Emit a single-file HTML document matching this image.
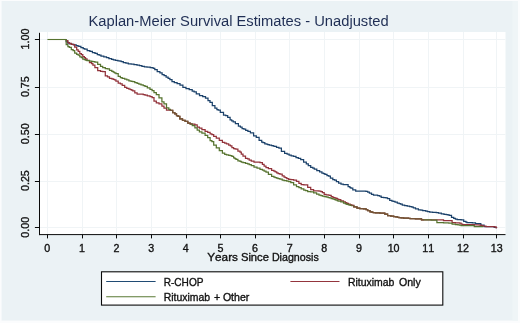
<!DOCTYPE html>
<html><head><meta charset="utf-8"><title>Kaplan-Meier Survival Estimates - Unadjusted</title>
<style>
html,body{margin:0;padding:0;background:#ebf2f5;}
body{width:520px;height:323px;overflow:hidden;position:relative;font-family:"Liberation Sans",sans-serif;}
</style></head><body>
<svg width="520" height="323" viewBox="0 0 520 323" style="position:absolute;left:0;top:0">
<rect x="0" y="0" width="520" height="323" fill="#fbfcfd"/>
<rect x="1.6" y="1" width="516.4" height="319.6" fill="#ebf2f5"/>
<rect x="512.5" y="1" width="5.5" height="319.6" fill="#eff5f7"/>
<rect x="39.5" y="32.0" width="466.0" height="202.6" fill="#ffffff"/>
<line x1="47.5" y1="32.0" x2="47.5" y2="234.6" stroke="#f0f4f6" stroke-width="1"/>
<line x1="82.5" y1="32.0" x2="82.5" y2="234.6" stroke="#f0f4f6" stroke-width="1"/>
<line x1="116.5" y1="32.0" x2="116.5" y2="234.6" stroke="#f0f4f6" stroke-width="1"/>
<line x1="151.5" y1="32.0" x2="151.5" y2="234.6" stroke="#f0f4f6" stroke-width="1"/>
<line x1="186.5" y1="32.0" x2="186.5" y2="234.6" stroke="#f0f4f6" stroke-width="1"/>
<line x1="220.5" y1="32.0" x2="220.5" y2="234.6" stroke="#f0f4f6" stroke-width="1"/>
<line x1="255.5" y1="32.0" x2="255.5" y2="234.6" stroke="#f0f4f6" stroke-width="1"/>
<line x1="289.5" y1="32.0" x2="289.5" y2="234.6" stroke="#f0f4f6" stroke-width="1"/>
<line x1="324.5" y1="32.0" x2="324.5" y2="234.6" stroke="#f0f4f6" stroke-width="1"/>
<line x1="359.5" y1="32.0" x2="359.5" y2="234.6" stroke="#f0f4f6" stroke-width="1"/>
<line x1="393.5" y1="32.0" x2="393.5" y2="234.6" stroke="#f0f4f6" stroke-width="1"/>
<line x1="428.5" y1="32.0" x2="428.5" y2="234.6" stroke="#f0f4f6" stroke-width="1"/>
<line x1="463.5" y1="32.0" x2="463.5" y2="234.6" stroke="#f0f4f6" stroke-width="1"/>
<line x1="496.5" y1="32.0" x2="496.5" y2="234.6" stroke="#f0f4f6" stroke-width="1"/>
<line x1="39.5" y1="227.5" x2="505.5" y2="227.5" stroke="#f0f4f6" stroke-width="1"/>
<line x1="39.5" y1="181.5" x2="505.5" y2="181.5" stroke="#f0f4f6" stroke-width="1"/>
<line x1="39.5" y1="134.5" x2="505.5" y2="134.5" stroke="#f0f4f6" stroke-width="1"/>
<line x1="39.5" y1="87.5" x2="505.5" y2="87.5" stroke="#f0f4f6" stroke-width="1"/>
<line x1="39.5" y1="39.5" x2="505.5" y2="39.5" stroke="#f0f4f6" stroke-width="1"/>
<defs><clipPath id="mg"><rect x="170" y="100" width="22" height="30"/><rect x="351" y="195" width="73" height="30"/></clipPath></defs>
<g fill="none" stroke-linejoin="miter" stroke-width="1.25">
<path d="M66.2 39.5 L66.2 41.5 L67.0 41.5 L67.7 41.5 L67.7 43.1 L68.5 43.1 L69.6 43.1 L69.6 43.8 L70.8 43.8 L71.7 43.8 L71.7 44.3 L72.6 44.3 L73.8 44.3 L73.8 44.9 L75.0 44.9 L76.2 44.9 L76.2 45.7 L77.5 45.7 L78.0 45.7 L78.0 46.1 L78.5 46.1 L79.0 46.1 L79.0 46.4 L79.5 46.4 L80.9 46.4 L80.9 47.7 L82.4 47.7 L83.2 47.7 L83.2 48.5 L84.0 48.5 L84.7 48.5 L84.7 49.2 L85.5 49.2 L87.2 49.2 L87.2 50.6 L88.9 50.6 L89.9 50.6 L89.9 51.4 L90.9 51.4 L92.4 51.4 L92.4 52.5 L93.9 52.5 L95.0 52.5 L95.0 53.3 L96.0 53.3 L97.3 53.3 L97.3 54.5 L98.5 54.5 L99.2 54.5 L99.2 55.2 L99.8 55.2 L101.0 55.2 L101.0 56.1 L102.3 56.1 L103.8 56.1 L103.8 56.9 L105.4 56.9 L106.5 56.9 L106.5 57.7 L107.6 57.7 L108.9 57.7 L108.9 58.6 L110.3 58.6 L111.6 58.6 L111.6 59.4 L112.9 59.4 L113.4 59.4 L113.4 59.8 L114.0 59.8 L115.4 59.8 L115.4 60.4 L116.8 60.4 L117.9 60.4 L117.9 60.8 L119.1 60.8 L120.0 60.8 L120.0 61.2 L120.8 61.2 L121.3 61.2 L121.3 61.5 L121.8 61.5 L123.3 61.5 L123.3 62.5 L124.8 62.5 L125.9 62.5 L125.9 63.1 L126.9 63.1 L128.3 63.1 L128.3 63.8 L129.6 63.8 L131.2 63.8 L131.2 64.2 L132.7 64.2 L134.0 64.2 L134.0 64.6 L135.4 64.6 L137.0 64.6 L137.0 65.2 L138.6 65.2 L139.5 65.2 L139.5 65.6 L140.5 65.6 L141.9 65.6 L141.9 66.3 L143.4 66.3 L144.4 66.3 L144.4 66.8 L145.4 66.8 L147.0 66.8 L147.0 67.1 L148.6 67.1 L150.2 67.1 L150.2 67.6 L151.7 67.6 L152.3 67.6 L152.3 67.8 L152.9 67.8 L153.5 67.8 L153.5 68.3 L154.1 68.3 L154.8 68.3 L154.8 69.5 L155.6 69.5 L157.2 69.5 L157.2 71.6 L158.9 71.6 L159.9 71.6 L159.9 72.8 L160.9 72.8 L162.1 72.8 L162.1 74.6 L163.3 74.6 L164.1 74.6 L164.1 75.7 L165.0 75.7 L166.1 75.7 L166.1 77.2 L167.1 77.2 L168.1 77.2 L168.1 78.4 L169.0 78.4 L169.9 78.4 L169.9 79.6 L170.8 79.6 L172.0 79.6 L172.0 81.7 L173.1 81.7 L174.3 81.7 L174.3 82.5 L175.5 82.5 L177.1 82.5 L177.1 83.6 L178.7 83.6 L180.0 83.6 L180.0 85.1 L181.3 85.1 L182.9 85.1 L182.9 87.4 L184.5 87.4 L186.0 87.4 L186.0 88.7 L187.5 88.7 L189.2 88.7 L189.2 89.5 L190.9 89.5 L192.2 89.5 L192.2 91.0 L193.5 91.0 L194.1 91.0 L194.1 91.8 L194.8 91.8 L196.3 91.8 L196.3 93.8 L197.9 93.8 L199.5 93.8 L199.5 95.5 L201.2 95.5 L202.7 95.5 L202.7 96.7 L204.3 96.7 L205.5 96.7 L205.5 98.1 L206.6 98.1 L208.0 98.1 L208.0 100.7 L209.3 100.7 L210.0 100.7 L210.0 102.3 L210.8 102.3 L212.3 102.3 L212.3 105.6 L213.7 105.6 L214.9 105.6 L214.9 108.0 L216.1 108.0 L216.9 108.0 L216.9 109.5 L217.7 109.5 L218.2 109.5 L218.2 110.2 L218.7 110.2 L220.3 110.2 L220.3 112.3 L221.8 112.3 L223.5 112.3 L223.5 115.1 L225.2 115.1 L225.7 115.1 L225.7 115.6 L226.3 115.6 L227.7 115.6 L227.7 117.4 L229.2 117.4 L230.1 117.4 L230.1 119.8 L231.1 119.8 L231.7 119.8 L231.7 120.8 L232.4 120.8 L233.2 120.8 L233.2 121.8 L234.0 121.8 L235.4 121.8 L235.4 123.7 L236.8 123.7 L238.4 123.7 L238.4 126.2 L239.9 126.2 L240.4 126.2 L240.4 127.2 L240.9 127.2 L242.1 127.2 L242.1 128.6 L243.4 128.6 L243.9 128.6 L243.9 129.1 L244.4 129.1 L245.7 129.1 L245.7 130.4 L247.1 130.4 L247.9 130.4 L247.9 131.3 L248.8 131.3 L250.4 131.3 L250.4 132.8 L251.9 132.8 L253.6 132.8 L253.6 135.8 L255.3 135.8 L256.3 135.8 L256.3 137.3 L257.4 137.3 L259.1 137.3 L259.1 140.3 L260.8 140.3 L261.7 140.3 L261.7 142.0 L262.5 142.0 L263.0 142.0 L263.0 142.5 L263.6 142.5 L264.8 142.5 L264.8 143.8 L266.0 143.8 L266.5 143.8 L266.5 144.1 L267.0 144.1 L267.7 144.1 L267.7 144.5 L268.4 144.5 L269.3 144.5 L269.3 145.0 L270.3 145.0 L271.5 145.0 L271.5 145.7 L272.7 145.7 L273.3 145.7 L273.3 146.1 L274.0 146.1 L274.5 146.1 L274.5 146.4 L275.0 146.4 L276.5 146.4 L276.5 147.4 L278.1 147.4 L278.9 147.4 L278.9 148.2 L279.7 148.2 L281.4 148.2 L281.4 151.4 L283.0 151.4 L284.6 151.4 L284.6 153.4 L286.2 153.4 L287.1 153.4 L287.1 154.2 L288.0 154.2 L289.1 154.2 L289.1 155.2 L290.1 155.2 L291.2 155.2 L291.2 155.9 L292.3 155.9 L293.5 155.9 L293.5 156.4 L294.8 156.4 L296.0 156.4 L296.0 157.5 L297.2 157.5 L298.3 157.5 L298.3 158.4 L299.5 158.4 L300.7 158.4 L300.7 159.5 L301.9 159.5 L303.6 159.5 L303.6 162.2 L305.2 162.2 L306.3 162.2 L306.3 163.9 L307.4 163.9 L308.3 163.9 L308.3 165.5 L309.3 165.5 L310.7 165.5 L310.7 167.3 L312.0 167.3 L312.8 167.3 L312.8 168.1 L313.5 168.1 L314.3 168.1 L314.3 169.0 L315.2 169.0 L316.8 169.0 L316.8 170.7 L318.5 170.7 L319.6 170.7 L319.6 171.9 L320.7 171.9 L321.9 171.9 L321.9 173.1 L323.0 173.1 L323.5 173.1 L323.5 173.6 L323.9 173.6 L324.9 173.6 L324.9 174.4 L325.9 174.4 L327.0 174.4 L327.0 175.5 L328.2 175.5 L328.7 175.5 L328.7 176.0 L329.2 176.0 L330.4 176.0 L330.4 178.0 L331.6 178.0 L332.8 178.0 L332.8 179.7 L334.1 179.7 L334.6 179.7 L334.6 180.2 L335.1 180.2 L336.4 180.2 L336.4 181.6 L337.6 181.6 L338.6 181.6 L338.6 183.0 L339.7 183.0 L341.0 183.0 L341.0 184.0 L342.3 184.0 L343.2 184.0 L343.2 184.5 L344.0 184.5 L345.4 184.5 L345.4 184.7 L346.7 184.7 L348.1 184.7 L348.1 186.7 L349.5 186.7 L349.9 186.7 L349.9 187.5 L350.4 187.5 L350.9 187.5 L350.9 188.2 L351.5 188.2 L352.8 188.2 L352.8 189.8 L354.1 189.8 L355.7 189.8 L355.7 191.0 L357.4 191.0 L358.1 191.0 L358.1 191.1 L358.9 191.1 L359.9 191.1 L359.9 191.1 L360.9 191.1 L362.1 191.1 L362.1 191.1 L363.3 191.1 L364.2 191.1 L364.2 191.1 L365.0 191.1 L365.9 191.1 L365.9 191.4 L366.8 191.4 L367.7 191.4 L367.7 192.2 L368.5 192.2 L369.4 192.2 L369.4 193.2 L370.3 193.2 L371.5 193.2 L371.5 194.4 L372.7 194.4 L373.5 194.4 L373.5 195.0 L374.4 195.0 L375.3 195.0 L375.3 195.2 L376.2 195.2 L377.6 195.2 L377.6 195.6 L379.0 195.6 L379.5 195.6 L379.5 196.1 L380.0 196.1 L381.2 196.1 L381.2 197.3 L382.3 197.3 L383.7 197.3 L383.7 197.7 L385.1 197.7 L385.9 197.7 L385.9 197.9 L386.7 197.9 L387.5 197.9 L387.5 198.5 L388.2 198.5 L389.7 198.5 L389.7 200.4 L391.1 200.4 L391.9 200.4 L391.9 201.0 L392.6 201.0 L393.3 201.0 L393.3 201.4 L394.0 201.4 L395.0 201.4 L395.0 202.1 L396.0 202.1 L397.3 202.1 L397.3 203.1 L398.6 203.1 L399.2 203.1 L399.2 203.5 L399.8 203.5 L400.6 203.5 L400.6 204.2 L401.5 204.2 L402.3 204.2 L402.3 205.0 L403.2 205.0 L404.7 205.0 L404.7 205.7 L406.2 205.7 L407.2 205.7 L407.2 206.0 L408.2 206.0 L409.7 206.0 L409.7 206.5 L411.2 206.5 L411.9 206.5 L411.9 207.1 L412.5 207.1 L413.4 207.1 L413.4 207.8 L414.3 207.8 L415.5 207.8 L415.5 208.9 L416.8 208.9 L418.4 208.9 L418.4 209.8 L419.9 209.8 L420.9 209.8 L420.9 210.2 L422.0 210.2 L422.7 210.2 L422.7 210.5 L423.4 210.5 L424.0 210.5 L424.0 210.7 L424.6 210.7 L425.7 210.7 L425.7 211.2 L426.8 211.2 L427.5 211.2 L427.5 211.6 L428.2 211.6 L429.7 211.6 L429.7 212.0 L431.1 212.0 L432.6 212.0 L432.6 212.3 L434.1 212.3 L434.8 212.3 L434.8 212.4 L435.5 212.4 L436.3 212.4 L436.3 212.5 L437.1 212.5 L438.5 212.5 L438.5 213.0 L440.0 213.0 L441.3 213.0 L441.3 213.9 L442.5 213.9 L444.0 213.9 L444.0 214.3 L445.4 214.3 L446.3 214.3 L446.3 214.5 L447.2 214.5 L447.8 214.5 L447.8 214.8 L448.4 214.8 L449.2 214.8 L449.2 215.3 L450.0 215.3 L451.5 215.3 L451.5 217.4 L452.9 217.4 L453.7 217.4 L453.7 218.4 L454.5 218.4 L455.4 218.4 L455.4 219.0 L456.3 219.0 L457.2 219.0 L457.2 219.5 L458.2 219.5 L459.2 219.5 L459.2 219.7 L460.2 219.7 L461.1 219.7 L461.1 219.9 L462.1 219.9 L463.7 219.9 L463.7 221.4 L465.3 221.4 L465.9 221.4 L465.9 222.0 L466.6 222.0 L467.0 222.0 L467.0 222.5 L467.5 222.5 L469.1 222.5 L469.1 222.6 L470.7 222.6 L472.3 222.6 L472.3 222.8 L473.8 222.8 L475.5 222.8 L475.5 223.6 L477.2 223.6 L478.2 223.6 L478.2 223.7 L479.2 223.7 L480.8 223.7 L480.8 225.0 L482.5 225.0 L484.1 225.0 L484.1 226.5 L485.7 226.5 L486.4 226.5 L486.4 226.5 L487.1 226.5 L488.5 226.5 L488.5 226.5 L489.9 226.5 L491.4 226.5 L491.4 226.5 L492.9 226.5 L494.2 226.5 L494.2 227.3 L495.5 227.3 L496.2 227.3 L496.2 227.6 L497.0 227.6" stroke="#1b416a"/>
<path d="M66.2 39.5 L66.2 40.5 L67.0 40.5 L67.9 40.5 L67.9 42.7 L68.7 42.7 L69.3 42.7 L69.3 43.4 L70.0 43.4 L71.3 43.4 L71.3 44.3 L72.5 44.3 L73.1 44.3 L73.1 44.6 L73.6 44.6 L74.7 44.6 L74.7 47.2 L75.8 47.2 L76.7 47.2 L76.7 49.8 L77.6 49.8 L78.2 49.8 L78.2 51.4 L78.7 51.4 L79.8 51.4 L79.8 53.6 L80.9 53.6 L81.4 53.6 L81.4 54.6 L81.9 54.6 L82.8 54.6 L82.8 56.6 L83.8 56.6 L84.4 56.6 L84.4 57.7 L84.9 57.7 L85.5 57.7 L85.5 58.8 L86.0 58.8 L87.0 58.8 L87.0 60.3 L88.0 60.3 L89.5 60.3 L89.5 62.5 L91.0 62.5 L91.6 62.5 L91.6 63.7 L92.2 63.7 L92.9 63.7 L92.9 65.1 L93.6 65.1 L94.9 65.1 L94.9 67.6 L96.1 67.6 L97.7 67.6 L97.7 70.5 L99.4 70.5 L100.5 70.5 L100.5 71.4 L101.7 71.4 L102.7 71.4 L102.7 71.6 L103.6 71.6 L105.3 71.6 L105.3 75.8 L107.0 75.8 L107.5 75.8 L107.5 76.8 L108.0 76.8 L109.5 76.8 L109.5 78.4 L111.0 78.4 L111.8 78.4 L111.8 78.9 L112.6 78.9 L113.3 78.9 L113.3 79.4 L113.9 79.4 L114.5 79.4 L114.5 79.8 L115.1 79.8 L115.9 79.8 L115.9 81.1 L116.8 81.1 L118.2 81.1 L118.2 83.1 L119.7 83.1 L120.4 83.1 L120.4 83.8 L121.1 83.8 L122.2 83.8 L122.2 85.3 L123.4 85.3 L124.7 85.3 L124.7 87.3 L125.9 87.3 L126.8 87.3 L126.8 88.3 L127.7 88.3 L128.9 88.3 L128.9 89.2 L130.0 89.2 L130.5 89.2 L130.5 89.5 L131.1 89.5 L131.6 89.5 L131.6 90.0 L132.1 90.0 L132.8 90.0 L132.8 90.8 L133.5 90.8 L134.8 90.8 L134.8 92.9 L136.1 92.9 L137.1 92.9 L137.1 94.0 L138.1 94.0 L138.9 94.0 L138.9 94.0 L139.8 94.0 L141.0 94.0 L141.0 94.0 L142.1 94.0 L143.2 94.0 L143.2 94.6 L144.2 94.6 L145.0 94.6 L145.0 95.1 L145.8 95.1 L147.3 95.1 L147.3 95.9 L148.7 95.9 L150.0 95.9 L150.0 96.7 L151.4 96.7 L152.1 96.7 L152.1 97.7 L152.9 97.7 L154.0 97.7 L154.0 101.2 L155.2 101.2 L156.3 101.2 L156.3 102.8 L157.4 102.8 L159.0 102.8 L159.0 103.8 L160.5 103.8 L161.9 103.8 L161.9 106.2 L163.2 106.2 L164.0 106.2 L164.0 108.2 L164.9 108.2 L166.5 108.2 L166.5 110.2 L168.2 110.2 L168.8 110.2 L168.8 110.2 L169.4 110.2 L170.4 110.2 L170.4 110.3 L171.3 110.3 L172.7 110.3 L172.7 112.5 L174.1 112.5 L174.8 112.5 L174.8 113.8 L175.4 113.8 L176.5 113.8 L176.5 115.6 L177.5 115.6 L178.0 115.6 L178.0 116.3 L178.5 116.3 L179.8 116.3 L179.8 118.9 L181.1 118.9 L182.5 118.9 L182.5 120.4 L183.9 120.4 L185.1 120.4 L185.1 121.4 L186.3 121.4 L187.8 121.4 L187.8 123.0 L189.3 123.0 L190.2 123.0 L190.2 123.8 L191.0 123.8 L192.3 123.8 L192.3 124.2 L193.7 124.2 L194.9 124.2 L194.9 124.8 L196.1 124.8 L197.2 124.8 L197.2 127.0 L198.4 127.0 L199.4 127.0 L199.4 128.2 L200.4 128.2 L201.9 128.2 L201.9 129.7 L203.4 129.7 L205.1 129.7 L205.1 131.3 L206.7 131.3 L207.7 131.3 L207.7 132.4 L208.8 132.4 L210.1 132.4 L210.1 133.9 L211.3 133.9 L211.9 133.9 L211.9 134.6 L212.4 134.6 L213.7 134.6 L213.7 136.4 L215.1 136.4 L216.3 136.4 L216.3 138.0 L217.6 138.0 L219.3 138.0 L219.3 140.3 L221.0 140.3 L222.4 140.3 L222.4 142.3 L223.9 142.3 L224.7 142.3 L224.7 143.2 L225.5 143.2 L226.5 143.2 L226.5 143.8 L227.4 143.8 L228.7 143.8 L228.7 145.1 L230.0 145.1 L230.4 145.1 L230.4 145.9 L230.9 145.9 L231.9 145.9 L231.9 147.6 L233.0 147.6 L233.6 147.6 L233.6 148.5 L234.3 148.5 L234.9 148.5 L234.9 148.8 L235.5 148.8 L236.0 148.8 L236.0 149.1 L236.5 149.1 L237.9 149.1 L237.9 151.0 L239.3 151.0 L240.0 151.0 L240.0 152.2 L240.6 152.2 L241.3 152.2 L241.3 154.1 L242.1 154.1 L243.0 154.1 L243.0 156.1 L244.0 156.1 L245.5 156.1 L245.5 158.3 L247.0 158.3 L247.6 158.3 L247.6 158.9 L248.1 158.9 L249.2 158.9 L249.2 160.0 L250.2 160.0 L251.3 160.0 L251.3 161.1 L252.4 161.1 L254.0 161.1 L254.0 162.0 L255.6 162.0 L257.0 162.0 L257.0 162.2 L258.5 162.2 L260.0 162.2 L260.0 162.7 L261.6 162.7 L262.4 162.7 L262.4 164.3 L263.2 164.3 L264.1 164.3 L264.1 166.2 L265.1 166.2 L266.0 166.2 L266.0 167.6 L266.9 167.6 L268.4 167.6 L268.4 168.6 L270.0 168.6 L271.6 168.6 L271.6 170.3 L273.3 170.3 L273.9 170.3 L273.9 171.0 L274.6 171.0 L275.2 171.0 L275.2 171.9 L275.9 171.9 L276.7 171.9 L276.7 172.9 L277.4 172.9 L278.1 172.9 L278.1 173.5 L278.9 173.5 L279.9 173.5 L279.9 174.2 L281.0 174.2 L282.2 174.2 L282.2 175.8 L283.4 175.8 L284.1 175.8 L284.1 177.0 L284.9 177.0 L285.4 177.0 L285.4 177.7 L285.8 177.7 L286.8 177.7 L286.8 178.6 L287.8 178.6 L288.7 178.6 L288.7 179.3 L289.6 179.3 L290.8 179.3 L290.8 179.7 L291.9 179.7 L293.6 179.7 L293.6 180.0 L295.2 180.0 L296.5 180.0 L296.5 181.3 L297.8 181.3 L298.9 181.3 L298.9 183.3 L300.0 183.3 L301.2 183.3 L301.2 184.6 L302.5 184.6 L303.8 184.6 L303.8 184.8 L305.0 184.8 L305.6 184.8 L305.6 184.9 L306.1 184.9 L307.7 184.9 L307.7 187.4 L309.2 187.4 L310.7 187.4 L310.7 189.5 L312.1 189.5 L313.6 189.5 L313.6 190.8 L315.2 190.8 L316.6 190.8 L316.6 190.9 L318.1 190.9 L319.0 190.9 L319.0 191.0 L319.9 191.0 L320.9 191.0 L320.9 191.5 L321.8 191.5 L322.4 191.5 L322.4 192.6 L323.0 192.6 L324.2 192.6 L324.2 194.3 L325.5 194.3 L326.0 194.3 L326.0 194.8 L326.5 194.8 L327.1 194.8 L327.1 194.9 L327.6 194.9 L328.3 194.9 L328.3 195.0 L329.0 195.0 L329.7 195.0 L329.7 195.4 L330.3 195.4 L331.2 195.4 L331.2 196.7 L332.1 196.7 L332.6 196.7 L332.6 197.2 L333.1 197.2 L333.6 197.2 L333.6 197.5 L334.0 197.5 L334.7 197.5 L334.7 197.9 L335.3 197.9 L335.9 197.9 L335.9 198.3 L336.5 198.3 L337.4 198.3 L337.4 199.2 L338.3 199.2 L338.7 199.2 L338.7 199.7 L339.2 199.7 L340.8 199.7 L340.8 200.9 L342.3 200.9 L343.5 200.9 L343.5 201.9 L344.7 201.9 L345.4 201.9 L345.4 202.5 L346.0 202.5 L346.8 202.5 L346.8 203.3 L347.5 203.3 L348.4 203.3 L348.4 204.0 L349.3 204.0 L350.2 204.0 L350.2 204.8 L351.1 204.8 L351.7 204.8 L351.7 205.4 L352.3 205.4 L353.8 205.4 L353.8 206.8 L355.4 206.8 L357.0 206.8 L357.0 208.0 L358.7 208.0 L359.8 208.0 L359.8 208.5 L360.8 208.5 L361.9 208.5 L361.9 208.7 L362.9 208.7 L363.5 208.7 L363.5 208.8 L364.0 208.8 L364.6 208.8 L364.6 208.9 L365.2 208.9 L366.1 208.9 L366.1 209.5 L366.9 209.5 L367.7 209.5 L367.7 210.6 L368.5 210.6 L370.0 210.6 L370.0 211.9 L371.5 211.9 L372.1 211.9 L372.1 212.4 L372.8 212.4 L373.3 212.4 L373.3 212.5 L373.7 212.5 L375.4 212.5 L375.4 212.8 L377.0 212.8 L378.1 212.8 L378.1 212.9 L379.2 212.9 L379.9 212.9 L379.9 213.0 L380.5 213.0 L381.6 213.0 L381.6 213.1 L382.8 213.1 L383.2 213.1 L383.2 213.2 L383.7 213.2 L384.8 213.2 L384.8 214.1 L385.9 214.1 L387.6 214.1 L387.6 215.6 L389.3 215.6 L390.8 215.6 L390.8 216.1 L392.4 216.1 L393.7 216.1 L393.7 216.5 L395.0 216.5 L395.8 216.5 L395.8 216.9 L396.5 216.9 L397.5 216.9 L397.5 217.3 L398.4 217.3 L399.0 217.3 L399.0 217.7 L399.7 217.7 L401.1 217.7 L401.1 217.9 L402.5 217.9 L403.6 217.9 L403.6 218.0 L404.7 218.0 L406.2 218.0 L406.2 218.2 L407.6 218.2 L408.4 218.2 L408.4 218.3 L409.3 218.3 L410.0 218.3 L410.0 218.5 L410.8 218.5 L412.2 218.5 L412.2 218.6 L413.7 218.6 L415.4 218.6 L415.4 218.8 L417.1 218.8 L418.6 218.8 L418.6 218.9 L420.1 218.9 L421.5 218.9 L421.5 219.8 L423.0 219.8 L424.5 219.8 L424.5 219.8 L426.0 219.8 L427.3 219.8 L427.3 219.8 L428.7 219.8 L429.4 219.8 L429.4 219.8 L430.2 219.8 L431.3 219.8 L431.3 219.8 L432.4 219.8 L433.3 219.8 L433.3 219.8 L434.2 219.8 L434.6 219.8 L434.6 219.8 L435.1 219.8 L435.6 219.8 L435.6 219.8 L436.1 219.8 L436.9 219.8 L436.9 219.8 L437.7 219.8 L438.5 219.8 L438.5 219.8 L439.2 219.8 L440.6 219.8 L440.6 219.8 L441.9 219.8 L443.5 219.8 L443.5 220.5 L445.2 220.5 L446.2 220.5 L446.2 220.5 L447.2 220.5 L448.8 220.5 L448.8 220.5 L450.4 220.5 L452.1 220.5 L452.1 222.6 L453.8 222.6 L455.4 222.6 L455.4 222.8 L457.1 222.8 L458.0 222.8 L458.0 222.9 L458.9 222.9 L459.6 222.9 L459.6 223.2 L460.3 223.2 L461.1 223.2 L461.1 224.1 L461.8 224.1 L462.5 224.1 L462.5 224.5 L463.2 224.5 L463.9 224.5 L463.9 224.6 L464.6 224.6 L465.8 224.6 L465.8 224.6 L467.1 224.6 L468.6 224.6 L468.6 224.7 L470.2 224.7 L471.7 224.7 L471.7 224.7 L473.2 224.7 L474.3 224.7 L474.3 224.8 L475.3 224.8 L476.6 224.8 L476.6 224.9 L477.9 224.9 L479.3 224.9 L479.3 225.2 L480.8 225.2 L481.3 225.2 L481.3 225.5 L481.9 225.5 L483.1 225.5 L483.1 226.1 L484.4 226.1 L486.0 226.1 L486.0 226.5 L487.6 226.5 L489.0 226.5 L489.0 226.5 L490.4 226.5 L491.8 226.5 L491.8 226.5 L493.2 226.5 L494.3 226.5 L494.3 226.9 L495.3 226.9 L496.0 226.9 L496.0 227.5 L496.7 227.5 L496.8 227.5 L496.8 227.6 L497.0 227.6" stroke="#92323a"/>
<path d="M66.2 39.5 L66.2 44.7 L67.0 44.7 L67.9 44.7 L67.9 46.5 L68.7 46.5 L69.3 46.5 L69.3 47.4 L70.0 47.4 L71.3 47.4 L71.3 49.7 L72.5 49.7 L73.1 49.7 L73.1 50.7 L73.6 50.7 L74.7 50.7 L74.7 53.0 L75.8 53.0 L76.7 53.0 L76.7 54.4 L77.6 54.4 L78.2 54.4 L78.2 55.2 L78.7 55.2 L79.8 55.2 L79.8 56.8 L80.9 56.8 L81.4 56.8 L81.4 57.6 L81.9 57.6 L82.8 57.6 L82.8 59.0 L83.8 59.0 L84.4 59.0 L84.4 59.6 L84.9 59.6 L85.5 59.6 L85.5 60.1 L86.0 60.1 L87.0 60.1 L87.0 60.5 L88.0 60.5 L89.5 60.5 L89.5 61.2 L91.0 61.2 L91.6 61.2 L91.6 61.3 L92.2 61.3 L92.9 61.3 L92.9 61.5 L93.6 61.5 L94.9 61.5 L94.9 62.1 L96.1 62.1 L97.7 62.1 L97.7 64.4 L99.4 64.4 L100.5 64.4 L100.5 66.3 L101.7 66.3 L102.7 66.3 L102.7 67.6 L103.6 67.6 L105.3 67.6 L105.3 68.6 L107.0 68.6 L107.5 68.6 L107.5 68.8 L108.0 68.8 L109.5 68.8 L109.5 70.3 L111.0 70.3 L111.8 70.3 L111.8 71.3 L112.6 71.3 L113.3 71.3 L113.3 72.1 L113.9 72.1 L114.5 72.1 L114.5 72.8 L115.1 72.8 L115.9 72.8 L115.9 73.7 L116.8 73.7 L118.2 73.7 L118.2 76.3 L119.7 76.3 L120.4 76.3 L120.4 77.7 L121.1 77.7 L122.2 77.7 L122.2 78.4 L123.4 78.4 L124.7 78.4 L124.7 79.2 L125.9 79.2 L126.8 79.2 L126.8 79.9 L127.7 79.9 L128.9 79.9 L128.9 80.8 L130.0 80.8 L130.5 80.8 L130.5 81.0 L131.1 81.0 L131.6 81.0 L131.6 81.3 L132.1 81.3 L132.8 81.3 L132.8 81.6 L133.5 81.6 L134.8 81.6 L134.8 82.5 L136.1 82.5 L137.1 82.5 L137.1 83.3 L138.1 83.3 L138.9 83.3 L138.9 84.0 L139.8 84.0 L141.0 84.0 L141.0 84.9 L142.1 84.9 L143.2 84.9 L143.2 85.7 L144.2 85.7 L145.0 85.7 L145.0 86.4 L145.8 86.4 L147.3 86.4 L147.3 87.8 L148.7 87.8 L150.0 87.8 L150.0 89.4 L151.4 89.4 L152.1 89.4 L152.1 90.5 L152.9 90.5 L154.0 90.5 L154.0 92.5 L155.2 92.5 L156.3 92.5 L156.3 94.5 L157.4 94.5 L159.0 94.5 L159.0 97.9 L160.5 97.9 L161.9 97.9 L161.9 101.8 L163.2 101.8 L164.0 101.8 L164.0 103.8 L164.9 103.8 L166.5 103.8 L166.5 107.9 L168.2 107.9 L168.8 107.9 L168.8 109.3 L169.4 109.3 L170.4 109.3 L170.4 110.3 L171.3 110.3 L172.7 110.3 L172.7 112.5 L174.1 112.5 L174.8 112.5 L174.8 113.8 L175.4 113.8 L176.5 113.8 L176.5 115.6 L177.5 115.6 L178.0 115.6 L178.0 116.3 L178.5 116.3 L179.8 116.3 L179.8 118.9 L181.1 118.9 L182.5 118.9 L182.5 120.4 L183.9 120.4 L185.1 120.4 L185.1 121.4 L186.3 121.4 L187.8 121.4 L187.8 123.0 L189.3 123.0 L190.2 123.0 L190.2 124.1 L191.0 124.1 L192.3 124.1 L192.3 125.5 L193.7 125.5 L194.9 125.5 L194.9 127.8 L196.1 127.8 L197.2 127.8 L197.2 130.1 L198.4 130.1 L199.4 130.1 L199.4 131.8 L200.4 131.8 L201.9 131.8 L201.9 133.1 L203.4 133.1 L205.1 133.1 L205.1 135.3 L206.7 135.3 L207.7 135.3 L207.7 137.7 L208.8 137.7 L210.1 137.7 L210.1 140.6 L211.3 140.6 L211.9 140.6 L211.9 141.6 L212.4 141.6 L213.7 141.6 L213.7 145.0 L215.1 145.0 L216.3 145.0 L216.3 147.8 L217.6 147.8 L219.3 147.8 L219.3 150.6 L221.0 150.6 L222.4 150.6 L222.4 153.2 L223.9 153.2 L224.7 153.2 L224.7 154.4 L225.5 154.4 L226.5 154.4 L226.5 154.9 L227.4 154.9 L228.7 154.9 L228.7 155.4 L230.0 155.4 L230.4 155.4 L230.4 155.5 L230.9 155.5 L231.9 155.5 L231.9 156.3 L233.0 156.3 L233.6 156.3 L233.6 157.8 L234.3 157.8 L234.9 157.8 L234.9 158.6 L235.5 158.6 L236.0 158.6 L236.0 159.3 L236.5 159.3 L237.9 159.3 L237.9 160.8 L239.3 160.8 L240.0 160.8 L240.0 161.4 L240.6 161.4 L241.3 161.4 L241.3 162.0 L242.1 162.0 L243.0 162.0 L243.0 162.5 L244.0 162.5 L245.5 162.5 L245.5 163.4 L247.0 163.4 L247.6 163.4 L247.6 163.8 L248.1 163.8 L249.2 163.8 L249.2 164.6 L250.2 164.6 L251.3 164.6 L251.3 165.5 L252.4 165.5 L254.0 165.5 L254.0 167.0 L255.6 167.0 L257.0 167.0 L257.0 168.2 L258.5 168.2 L260.0 168.2 L260.0 169.4 L261.6 169.4 L262.4 169.4 L262.4 170.0 L263.2 170.0 L264.1 170.0 L264.1 171.0 L265.1 171.0 L266.0 171.0 L266.0 172.2 L266.9 172.2 L268.4 172.2 L268.4 174.3 L270.0 174.3 L271.6 174.3 L271.6 176.4 L273.3 176.4 L273.9 176.4 L273.9 177.0 L274.6 177.0 L275.2 177.0 L275.2 177.5 L275.9 177.5 L276.7 177.5 L276.7 178.0 L277.4 178.0 L278.1 178.0 L278.1 178.5 L278.9 178.5 L279.9 178.5 L279.9 179.2 L281.0 179.2 L282.2 179.2 L282.2 180.0 L283.4 180.0 L284.1 180.0 L284.1 180.5 L284.9 180.5 L285.4 180.5 L285.4 180.7 L285.8 180.7 L286.8 180.7 L286.8 181.2 L287.8 181.2 L288.7 181.2 L288.7 181.5 L289.6 181.5 L290.8 181.5 L290.8 182.7 L291.9 182.7 L293.6 182.7 L293.6 184.9 L295.2 184.9 L296.5 184.9 L296.5 186.6 L297.8 186.6 L298.9 186.6 L298.9 187.6 L300.0 187.6 L301.2 187.6 L301.2 188.8 L302.5 188.8 L303.8 188.8 L303.8 190.1 L305.0 190.1 L305.6 190.1 L305.6 190.5 L306.1 190.5 L307.7 190.5 L307.7 191.5 L309.2 191.5 L310.7 191.5 L310.7 191.9 L312.1 191.9 L313.6 191.9 L313.6 192.9 L315.2 192.9 L316.6 192.9 L316.6 194.1 L318.1 194.1 L319.0 194.1 L319.0 195.1 L319.9 195.1 L320.9 195.1 L320.9 195.7 L321.8 195.7 L322.4 195.7 L322.4 196.1 L323.0 196.1 L324.2 196.1 L324.2 196.7 L325.5 196.7 L326.0 196.7 L326.0 196.8 L326.5 196.8 L327.1 196.8 L327.1 197.0 L327.6 197.0 L328.3 197.0 L328.3 197.5 L329.0 197.5 L329.7 197.5 L329.7 197.9 L330.3 197.9 L331.2 197.9 L331.2 198.5 L332.1 198.5 L332.6 198.5 L332.6 198.9 L333.1 198.9 L333.6 198.9 L333.6 199.2 L334.0 199.2 L334.7 199.2 L334.7 199.6 L335.3 199.6 L335.9 199.6 L335.9 200.1 L336.5 200.1 L337.4 200.1 L337.4 200.8 L338.3 200.8 L338.7 200.8 L338.7 201.1 L339.2 201.1 L340.8 201.1 L340.8 201.9 L342.3 201.9 L343.5 201.9 L343.5 203.1 L344.7 203.1 L345.4 203.1 L345.4 203.8 L346.0 203.8 L346.8 203.8 L346.8 204.3 L347.5 204.3 L348.4 204.3 L348.4 204.8 L349.3 204.8 L350.2 204.8 L350.2 205.3 L351.1 205.3 L351.7 205.3 L351.7 205.7 L352.3 205.7 L353.8 205.7 L353.8 206.8 L355.4 206.8 L357.0 206.8 L357.0 208.0 L358.7 208.0 L359.8 208.0 L359.8 208.5 L360.8 208.5 L361.9 208.5 L361.9 208.7 L362.9 208.7 L363.5 208.7 L363.5 208.8 L364.0 208.8 L364.6 208.8 L364.6 208.9 L365.2 208.9 L366.1 208.9 L366.1 209.5 L366.9 209.5 L367.7 209.5 L367.7 210.6 L368.5 210.6 L370.0 210.6 L370.0 211.9 L371.5 211.9 L372.1 211.9 L372.1 212.4 L372.8 212.4 L373.3 212.4 L373.3 212.5 L373.7 212.5 L375.4 212.5 L375.4 212.8 L377.0 212.8 L378.1 212.8 L378.1 212.9 L379.2 212.9 L379.9 212.9 L379.9 213.0 L380.5 213.0 L381.6 213.0 L381.6 213.1 L382.8 213.1 L383.2 213.1 L383.2 213.2 L383.7 213.2 L384.8 213.2 L384.8 214.1 L385.9 214.1 L387.6 214.1 L387.6 215.6 L389.3 215.6 L390.8 215.6 L390.8 216.1 L392.4 216.1 L393.7 216.1 L393.7 216.5 L395.0 216.5 L395.8 216.5 L395.8 216.9 L396.5 216.9 L397.5 216.9 L397.5 217.3 L398.4 217.3 L399.0 217.3 L399.0 217.7 L399.7 217.7 L401.1 217.7 L401.1 217.9 L402.5 217.9 L403.6 217.9 L403.6 218.0 L404.7 218.0 L406.2 218.0 L406.2 218.2 L407.6 218.2 L408.4 218.2 L408.4 218.3 L409.3 218.3 L410.0 218.3 L410.0 218.5 L410.8 218.5 L412.2 218.5 L412.2 218.6 L413.7 218.6 L415.4 218.6 L415.4 218.8 L417.1 218.8 L418.6 218.8 L418.6 218.9 L420.1 218.9 L421.5 218.9 L421.5 219.8 L423.0 219.8 L424.5 219.8 L424.5 219.8 L426.0 219.8 L427.3 219.8 L427.3 219.9 L428.7 219.9 L429.4 219.9 L429.4 219.9 L430.2 219.9 L431.3 219.9 L431.3 220.0 L432.4 220.0 L433.3 220.0 L433.3 220.0 L434.2 220.0 L434.6 220.0 L434.6 220.1 L435.1 220.1 L435.6 220.1 L435.6 220.1 L436.1 220.1 L436.9 220.1 L436.9 222.6 L437.7 222.6 L438.5 222.6 L438.5 222.7 L439.2 222.7 L440.6 222.7 L440.6 222.7 L441.9 222.7 L443.5 222.7 L443.5 222.8 L445.2 222.8 L446.2 222.8 L446.2 222.9 L447.2 222.9 L448.8 222.9 L448.8 223.0 L450.4 223.0 L452.1 223.0 L452.1 224.0 L453.8 224.0 L455.4 224.0 L455.4 224.6 L457.1 224.6 L458.0 224.6 L458.0 224.8 L458.9 224.8 L459.6 224.8 L459.6 225.2 L460.3 225.2 L461.1 225.2 L461.1 225.6 L461.8 225.6 L462.5 225.6 L462.5 225.6 L463.2 225.6 L463.9 225.6 L463.9 225.6 L464.6 225.6 L465.8 225.6 L465.8 225.6 L467.1 225.6 L468.6 225.6 L468.6 225.6 L470.2 225.6 L471.7 225.6 L471.7 225.6 L473.2 225.6 L474.3 225.6 L474.3 226.5 L475.3 226.5 L476.6 226.5 L476.6 226.5 L477.9 226.5 L479.3 226.5 L479.3 226.5 L480.8 226.5 L481.3 226.5 L481.3 226.5 L481.9 226.5 L482.5 226.5 L482.5 226.5 L483.1 226.5" stroke="#56732f"/>
<path d="M66.2 39.5 L66.2 40.5 L67.0 40.5 L67.9 40.5 L67.9 42.7 L68.7 42.7 L69.3 42.7 L69.3 43.4 L70.0 43.4 L71.3 43.4 L71.3 44.3 L72.5 44.3 L73.1 44.3 L73.1 44.6 L73.6 44.6 L74.7 44.6 L74.7 47.2 L75.8 47.2 L76.7 47.2 L76.7 49.8 L77.6 49.8 L78.2 49.8 L78.2 51.4 L78.7 51.4 L79.8 51.4 L79.8 53.6 L80.9 53.6 L81.4 53.6 L81.4 54.6 L81.9 54.6 L82.8 54.6 L82.8 56.6 L83.8 56.6 L84.4 56.6 L84.4 57.7 L84.9 57.7 L85.5 57.7 L85.5 58.8 L86.0 58.8 L87.0 58.8 L87.0 60.3 L88.0 60.3 L89.5 60.3 L89.5 62.5 L91.0 62.5 L91.6 62.5 L91.6 63.7 L92.2 63.7 L92.9 63.7 L92.9 65.1 L93.6 65.1 L94.9 65.1 L94.9 67.6 L96.1 67.6 L97.7 67.6 L97.7 70.5 L99.4 70.5 L100.5 70.5 L100.5 71.4 L101.7 71.4 L102.7 71.4 L102.7 71.6 L103.6 71.6 L105.3 71.6 L105.3 75.8 L107.0 75.8 L107.5 75.8 L107.5 76.8 L108.0 76.8 L109.5 76.8 L109.5 78.4 L111.0 78.4 L111.8 78.4 L111.8 78.9 L112.6 78.9 L113.3 78.9 L113.3 79.4 L113.9 79.4 L114.5 79.4 L114.5 79.8 L115.1 79.8 L115.9 79.8 L115.9 81.1 L116.8 81.1 L118.2 81.1 L118.2 83.1 L119.7 83.1 L120.4 83.1 L120.4 83.8 L121.1 83.8 L122.2 83.8 L122.2 85.3 L123.4 85.3 L124.7 85.3 L124.7 87.3 L125.9 87.3 L126.8 87.3 L126.8 88.3 L127.7 88.3 L128.9 88.3 L128.9 89.2 L130.0 89.2 L130.5 89.2 L130.5 89.5 L131.1 89.5 L131.6 89.5 L131.6 90.0 L132.1 90.0 L132.8 90.0 L132.8 90.8 L133.5 90.8 L134.8 90.8 L134.8 92.9 L136.1 92.9 L137.1 92.9 L137.1 94.0 L138.1 94.0 L138.9 94.0 L138.9 94.0 L139.8 94.0 L141.0 94.0 L141.0 94.0 L142.1 94.0 L143.2 94.0 L143.2 94.6 L144.2 94.6 L145.0 94.6 L145.0 95.1 L145.8 95.1 L147.3 95.1 L147.3 95.9 L148.7 95.9 L150.0 95.9 L150.0 96.7 L151.4 96.7 L152.1 96.7 L152.1 97.7 L152.9 97.7 L154.0 97.7 L154.0 101.2 L155.2 101.2 L156.3 101.2 L156.3 102.8 L157.4 102.8 L159.0 102.8 L159.0 103.8 L160.5 103.8 L161.9 103.8 L161.9 106.2 L163.2 106.2 L164.0 106.2 L164.0 108.2 L164.9 108.2 L166.5 108.2 L166.5 110.2 L168.2 110.2 L168.8 110.2 L168.8 110.2 L169.4 110.2 L170.4 110.2 L170.4 110.3 L171.3 110.3 L172.7 110.3 L172.7 112.5 L174.1 112.5 L174.8 112.5 L174.8 113.8 L175.4 113.8 L176.5 113.8 L176.5 115.6 L177.5 115.6 L178.0 115.6 L178.0 116.3 L178.5 116.3 L179.8 116.3 L179.8 118.9 L181.1 118.9 L182.5 118.9 L182.5 120.4 L183.9 120.4 L185.1 120.4 L185.1 121.4 L186.3 121.4 L187.8 121.4 L187.8 123.0 L189.3 123.0 L190.2 123.0 L190.2 123.8 L191.0 123.8 L192.3 123.8 L192.3 124.2 L193.7 124.2 L194.9 124.2 L194.9 124.8 L196.1 124.8 L197.2 124.8 L197.2 127.0 L198.4 127.0 L199.4 127.0 L199.4 128.2 L200.4 128.2 L201.9 128.2 L201.9 129.7 L203.4 129.7 L205.1 129.7 L205.1 131.3 L206.7 131.3 L207.7 131.3 L207.7 132.4 L208.8 132.4 L210.1 132.4 L210.1 133.9 L211.3 133.9 L211.9 133.9 L211.9 134.6 L212.4 134.6 L213.7 134.6 L213.7 136.4 L215.1 136.4 L216.3 136.4 L216.3 138.0 L217.6 138.0 L219.3 138.0 L219.3 140.3 L221.0 140.3 L222.4 140.3 L222.4 142.3 L223.9 142.3 L224.7 142.3 L224.7 143.2 L225.5 143.2 L226.5 143.2 L226.5 143.8 L227.4 143.8 L228.7 143.8 L228.7 145.1 L230.0 145.1 L230.4 145.1 L230.4 145.9 L230.9 145.9 L231.9 145.9 L231.9 147.6 L233.0 147.6 L233.6 147.6 L233.6 148.5 L234.3 148.5 L234.9 148.5 L234.9 148.8 L235.5 148.8 L236.0 148.8 L236.0 149.1 L236.5 149.1 L237.9 149.1 L237.9 151.0 L239.3 151.0 L240.0 151.0 L240.0 152.2 L240.6 152.2 L241.3 152.2 L241.3 154.1 L242.1 154.1 L243.0 154.1 L243.0 156.1 L244.0 156.1 L245.5 156.1 L245.5 158.3 L247.0 158.3 L247.6 158.3 L247.6 158.9 L248.1 158.9 L249.2 158.9 L249.2 160.0 L250.2 160.0 L251.3 160.0 L251.3 161.1 L252.4 161.1 L254.0 161.1 L254.0 162.0 L255.6 162.0 L257.0 162.0 L257.0 162.2 L258.5 162.2 L260.0 162.2 L260.0 162.7 L261.6 162.7 L262.4 162.7 L262.4 164.3 L263.2 164.3 L264.1 164.3 L264.1 166.2 L265.1 166.2 L266.0 166.2 L266.0 167.6 L266.9 167.6 L268.4 167.6 L268.4 168.6 L270.0 168.6 L271.6 168.6 L271.6 170.3 L273.3 170.3 L273.9 170.3 L273.9 171.0 L274.6 171.0 L275.2 171.0 L275.2 171.9 L275.9 171.9 L276.7 171.9 L276.7 172.9 L277.4 172.9 L278.1 172.9 L278.1 173.5 L278.9 173.5 L279.9 173.5 L279.9 174.2 L281.0 174.2 L282.2 174.2 L282.2 175.8 L283.4 175.8 L284.1 175.8 L284.1 177.0 L284.9 177.0 L285.4 177.0 L285.4 177.7 L285.8 177.7 L286.8 177.7 L286.8 178.6 L287.8 178.6 L288.7 178.6 L288.7 179.3 L289.6 179.3 L290.8 179.3 L290.8 179.7 L291.9 179.7 L293.6 179.7 L293.6 180.0 L295.2 180.0 L296.5 180.0 L296.5 181.3 L297.8 181.3 L298.9 181.3 L298.9 183.3 L300.0 183.3 L301.2 183.3 L301.2 184.6 L302.5 184.6 L303.8 184.6 L303.8 184.8 L305.0 184.8 L305.6 184.8 L305.6 184.9 L306.1 184.9 L307.7 184.9 L307.7 187.4 L309.2 187.4 L310.7 187.4 L310.7 189.5 L312.1 189.5 L313.6 189.5 L313.6 190.8 L315.2 190.8 L316.6 190.8 L316.6 190.9 L318.1 190.9 L319.0 190.9 L319.0 191.0 L319.9 191.0 L320.9 191.0 L320.9 191.5 L321.8 191.5 L322.4 191.5 L322.4 192.6 L323.0 192.6 L324.2 192.6 L324.2 194.3 L325.5 194.3 L326.0 194.3 L326.0 194.8 L326.5 194.8 L327.1 194.8 L327.1 194.9 L327.6 194.9 L328.3 194.9 L328.3 195.0 L329.0 195.0 L329.7 195.0 L329.7 195.4 L330.3 195.4 L331.2 195.4 L331.2 196.7 L332.1 196.7 L332.6 196.7 L332.6 197.2 L333.1 197.2 L333.6 197.2 L333.6 197.5 L334.0 197.5 L334.7 197.5 L334.7 197.9 L335.3 197.9 L335.9 197.9 L335.9 198.3 L336.5 198.3 L337.4 198.3 L337.4 199.2 L338.3 199.2 L338.7 199.2 L338.7 199.7 L339.2 199.7 L340.8 199.7 L340.8 200.9 L342.3 200.9 L343.5 200.9 L343.5 201.9 L344.7 201.9 L345.4 201.9 L345.4 202.5 L346.0 202.5 L346.8 202.5 L346.8 203.3 L347.5 203.3 L348.4 203.3 L348.4 204.0 L349.3 204.0 L350.2 204.0 L350.2 204.8 L351.1 204.8 L351.7 204.8 L351.7 205.4 L352.3 205.4 L353.8 205.4 L353.8 206.8 L355.4 206.8 L357.0 206.8 L357.0 208.0 L358.7 208.0 L359.8 208.0 L359.8 208.5 L360.8 208.5 L361.9 208.5 L361.9 208.7 L362.9 208.7 L363.5 208.7 L363.5 208.8 L364.0 208.8 L364.6 208.8 L364.6 208.9 L365.2 208.9 L366.1 208.9 L366.1 209.5 L366.9 209.5 L367.7 209.5 L367.7 210.6 L368.5 210.6 L370.0 210.6 L370.0 211.9 L371.5 211.9 L372.1 211.9 L372.1 212.4 L372.8 212.4 L373.3 212.4 L373.3 212.5 L373.7 212.5 L375.4 212.5 L375.4 212.8 L377.0 212.8 L378.1 212.8 L378.1 212.9 L379.2 212.9 L379.9 212.9 L379.9 213.0 L380.5 213.0 L381.6 213.0 L381.6 213.1 L382.8 213.1 L383.2 213.1 L383.2 213.2 L383.7 213.2 L384.8 213.2 L384.8 214.1 L385.9 214.1 L387.6 214.1 L387.6 215.6 L389.3 215.6 L390.8 215.6 L390.8 216.1 L392.4 216.1 L393.7 216.1 L393.7 216.5 L395.0 216.5 L395.8 216.5 L395.8 216.9 L396.5 216.9 L397.5 216.9 L397.5 217.3 L398.4 217.3 L399.0 217.3 L399.0 217.7 L399.7 217.7 L401.1 217.7 L401.1 217.9 L402.5 217.9 L403.6 217.9 L403.6 218.0 L404.7 218.0 L406.2 218.0 L406.2 218.2 L407.6 218.2 L408.4 218.2 L408.4 218.3 L409.3 218.3 L410.0 218.3 L410.0 218.5 L410.8 218.5 L412.2 218.5 L412.2 218.6 L413.7 218.6 L415.4 218.6 L415.4 218.8 L417.1 218.8 L418.6 218.8 L418.6 218.9 L420.1 218.9 L421.5 218.9 L421.5 219.8 L423.0 219.8 L424.5 219.8 L424.5 219.8 L426.0 219.8 L427.3 219.8 L427.3 219.8 L428.7 219.8 L429.4 219.8 L429.4 219.8 L430.2 219.8 L431.3 219.8 L431.3 219.8 L432.4 219.8 L433.3 219.8 L433.3 219.8 L434.2 219.8 L434.6 219.8 L434.6 219.8 L435.1 219.8 L435.6 219.8 L435.6 219.8 L436.1 219.8 L436.9 219.8 L436.9 219.8 L437.7 219.8 L438.5 219.8 L438.5 219.8 L439.2 219.8 L440.6 219.8 L440.6 219.8 L441.9 219.8 L443.5 219.8 L443.5 220.5 L445.2 220.5 L446.2 220.5 L446.2 220.5 L447.2 220.5 L448.8 220.5 L448.8 220.5 L450.4 220.5 L452.1 220.5 L452.1 222.6 L453.8 222.6 L455.4 222.6 L455.4 222.8 L457.1 222.8 L458.0 222.8 L458.0 222.9 L458.9 222.9 L459.6 222.9 L459.6 223.2 L460.3 223.2 L461.1 223.2 L461.1 224.1 L461.8 224.1 L462.5 224.1 L462.5 224.5 L463.2 224.5 L463.9 224.5 L463.9 224.6 L464.6 224.6 L465.8 224.6 L465.8 224.6 L467.1 224.6 L468.6 224.6 L468.6 224.7 L470.2 224.7 L471.7 224.7 L471.7 224.7 L473.2 224.7 L474.3 224.7 L474.3 224.8 L475.3 224.8 L476.6 224.8 L476.6 224.9 L477.9 224.9 L479.3 224.9 L479.3 225.2 L480.8 225.2 L481.3 225.2 L481.3 225.5 L481.9 225.5 L483.1 225.5 L483.1 226.1 L484.4 226.1 L486.0 226.1 L486.0 226.5 L487.6 226.5 L489.0 226.5 L489.0 226.5 L490.4 226.5 L491.8 226.5 L491.8 226.5 L493.2 226.5 L494.3 226.5 L494.3 226.9 L495.3 226.9 L496.0 226.9 L496.0 227.5 L496.7 227.5 L496.8 227.5 L496.8 227.6 L497.0 227.6" stroke="#92323a" opacity="0.5" clip-path="url(#mg)"/>
<line x1="47.4" y1="39.5" x2="66.6" y2="39.5" stroke="#56732f" stroke-width="1.1"/>
</g>
<g stroke="#0a0a0a" stroke-width="1" fill="none">
<line x1="39.5" y1="32.8" x2="39.5" y2="235.1"/>
<line x1="39.0" y1="234.6" x2="505.5" y2="234.6"/>
<line x1="47.5" y1="234.6" x2="47.5" y2="238.4"/>
<line x1="82.5" y1="234.6" x2="82.5" y2="238.4"/>
<line x1="116.5" y1="234.6" x2="116.5" y2="238.4"/>
<line x1="151.5" y1="234.6" x2="151.5" y2="238.4"/>
<line x1="186.5" y1="234.6" x2="186.5" y2="238.4"/>
<line x1="220.5" y1="234.6" x2="220.5" y2="238.4"/>
<line x1="255.5" y1="234.6" x2="255.5" y2="238.4"/>
<line x1="289.5" y1="234.6" x2="289.5" y2="238.4"/>
<line x1="324.5" y1="234.6" x2="324.5" y2="238.4"/>
<line x1="359.5" y1="234.6" x2="359.5" y2="238.4"/>
<line x1="393.5" y1="234.6" x2="393.5" y2="238.4"/>
<line x1="428.5" y1="234.6" x2="428.5" y2="238.4"/>
<line x1="463.5" y1="234.6" x2="463.5" y2="238.4"/>
<line x1="496.5" y1="234.6" x2="496.5" y2="238.4"/>
<line x1="34.9" y1="227.5" x2="39.5" y2="227.5"/>
<line x1="34.9" y1="181.5" x2="39.5" y2="181.5"/>
<line x1="34.9" y1="134.5" x2="39.5" y2="134.5"/>
<line x1="34.9" y1="87.5" x2="39.5" y2="87.5"/>
<line x1="34.9" y1="39.5" x2="39.5" y2="39.5"/>
</g>
<g font-family="Liberation Sans, sans-serif" fill="#111" stroke="#111" stroke-width="0.35" opacity="0.995" style="font-kerning:none">
<text x="47.2" y="252.3" font-size="10.7" text-anchor="middle">0</text>
<text x="81.9" y="252.3" font-size="10.7" text-anchor="middle">1</text>
<text x="116.6" y="252.3" font-size="10.7" text-anchor="middle">2</text>
<text x="151.2" y="252.3" font-size="10.7" text-anchor="middle">3</text>
<text x="185.8" y="252.3" font-size="10.7" text-anchor="middle">4</text>
<text x="220.5" y="252.3" font-size="10.7" text-anchor="middle">5</text>
<text x="255.1" y="252.3" font-size="10.7" text-anchor="middle">6</text>
<text x="289.7" y="252.3" font-size="10.7" text-anchor="middle">7</text>
<text x="324.3" y="252.3" font-size="10.7" text-anchor="middle">8</text>
<text x="359.0" y="252.3" font-size="10.7" text-anchor="middle">9</text>
<text x="393.6" y="252.3" font-size="10.7" text-anchor="middle">10</text>
<text x="428.3" y="252.3" font-size="10.7" text-anchor="middle">11</text>
<text x="462.9" y="252.3" font-size="10.7" text-anchor="middle">12</text>
<text x="496.7" y="252.3" font-size="10.7" text-anchor="middle">13</text>
<text transform="translate(28.6 227.3) rotate(-90)" font-size="10.7" text-anchor="middle">0.00</text>
<text transform="translate(28.6 180.6) rotate(-90)" font-size="10.7" text-anchor="middle">0.25</text>
<text transform="translate(28.6 133.8) rotate(-90)" font-size="10.7" text-anchor="middle">0.50</text>
<text transform="translate(28.6 86.7) rotate(-90)" font-size="10.7" text-anchor="middle">0.75</text>
<text transform="translate(28.6 39.0) rotate(-90)" font-size="10.7" text-anchor="middle">1.00</text>
<text x="207.2" y="261" font-size="11.2" textLength="30.8" lengthAdjust="spacingAndGlyphs">Years</text>
<text x="240.9" y="261" font-size="11.2" textLength="28.1" lengthAdjust="spacingAndGlyphs">Since</text>
<text x="271.9" y="261" font-size="11.2" textLength="46.9" lengthAdjust="spacingAndGlyphs">Diagnosis</text>
<text x="238.6" y="25.5" font-size="14.72" text-anchor="middle" fill="#1e2d53" stroke="none">Kaplan-Meier Survival Estimates - Unadjusted</text>
<rect x="101.5" y="271.8" width="341.3" height="33.3" fill="#ffffff" stroke="#0a0a0a" stroke-width="1.1"/>
<line x1="106.2" y1="281.5" x2="155.6" y2="281.5" stroke="#1f4a73" stroke-width="1.1"/>
<line x1="106.2" y1="296.8" x2="155.6" y2="296.8" stroke="#5a7a33" stroke-width="1.1"/>
<line x1="290.4" y1="281.5" x2="339.5" y2="281.5" stroke="#94343c" stroke-width="1.1"/>
<text x="163.7" y="285.5" font-size="10.6" textLength="39.8" lengthAdjust="spacingAndGlyphs">R-CHOP</text>
<text x="163.7" y="301.1" font-size="10.6" textLength="46.4" lengthAdjust="spacingAndGlyphs">Rituximab</text>
<text x="213.9" y="301.1" font-size="10.6">+</text>
<text x="222.9" y="301.1" font-size="10.6" textLength="26.4" lengthAdjust="spacingAndGlyphs">Other</text>
<text x="348" y="285.5" font-size="10.6" textLength="46.4" lengthAdjust="spacingAndGlyphs">Rituximab</text>
<text x="398.9" y="285.5" font-size="10.6">Only</text>
</g>
</svg>
</body></html>
